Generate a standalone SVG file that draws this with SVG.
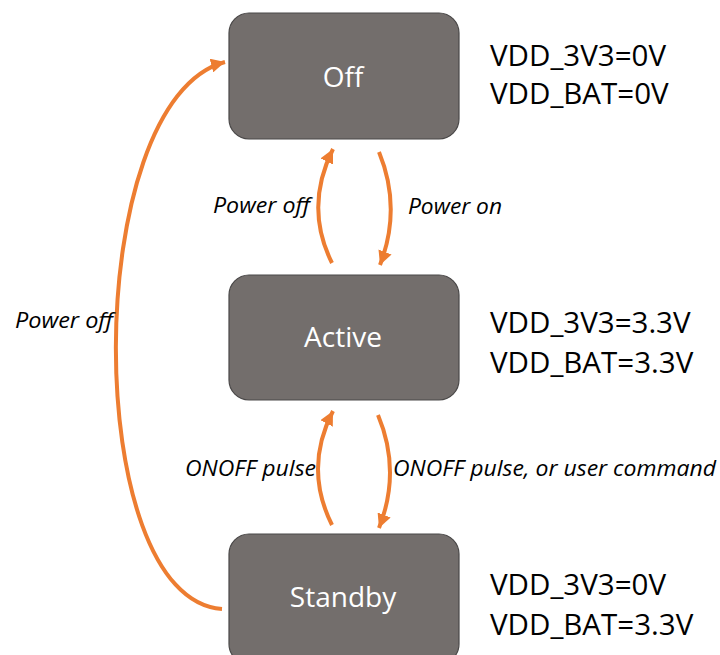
<svg xmlns="http://www.w3.org/2000/svg" width="720" height="655" viewBox="0 0 720 655">
<style>
.box{fill:#736E6C;stroke:#4A4848;stroke-width:1.2}
.nl{font-family:"Open Sans","Noto Sans",sans-serif;font-size:28px;fill:#FFFFFF;text-anchor:middle}
.v{font-family:"Open Sans","Noto Sans",sans-serif;font-size:29.5px;fill:#000000}
.lb{font-family:"Open Sans","Noto Sans",sans-serif;font-size:21px;font-style:italic;fill:#000000}
.c{fill:none;stroke:#ED7D31;stroke-width:4}
</style>
<defs>
<marker id="ah" markerUnits="userSpaceOnUse" markerWidth="16" markerHeight="14" refX="14" refY="7" orient="auto">
<path d="M0,0 L14,7 L0,14 Z" fill="#ED7D31"/>
</marker>
</defs>
<g id="connectors">
<path class="c" d="M222,609 C80,600 80,100 225,62" marker-end="url(#ah)"/>
<path class="c" d="M332,263 Q304,207 333,149" marker-end="url(#ah)"/>
<path class="c" d="M379,152 Q402,208 380,265" marker-end="url(#ah)"/>
<path class="c" d="M332,525 Q303.5,468 333,411" marker-end="url(#ah)"/>
<path class="c" d="M378,415 Q401.5,471 379,528" marker-end="url(#ah)"/>
</g>
<g id="labels">
<text class="lb" x="213" y="213" textLength="97" lengthAdjust="spacingAndGlyphs">Power off</text>
<text class="lb" x="408" y="214" textLength="94" lengthAdjust="spacingAndGlyphs">Power on</text>
<text class="lb" x="15" y="328" textLength="98" lengthAdjust="spacingAndGlyphs">Power off</text>
<text class="lb" x="185" y="476" textLength="131" lengthAdjust="spacingAndGlyphs">ONOFF pulse</text>
<text class="lb" x="393" y="476" textLength="323" lengthAdjust="spacingAndGlyphs">ONOFF pulse, or user command</text>
</g>
<g id="off">
<rect class="box" x="229" y="13" width="230" height="126" rx="20"/>
<text class="nl" x="343" y="87">Off</text>
<text class="v" x="490" y="66">VDD_3V3=0V</text>
<text class="v" x="490" y="104">VDD_BAT=0V</text>
</g>
<g id="active">
<rect class="box" x="229" y="275" width="230" height="125" rx="20"/>
<text class="nl" x="343" y="347">Active</text>
<text class="v" x="490" y="333">VDD_3V3=3.3V</text>
<text class="v" x="490" y="373">VDD_BAT=3.3V</text>
</g>
<g id="standby">
<rect class="box" x="229" y="534" width="230" height="130" rx="20"/>
<text class="nl" x="343" y="607">Standby</text>
<text class="v" x="490" y="595">VDD_3V3=0V</text>
<text class="v" x="490" y="635">VDD_BAT=3.3V</text>
</g>
</svg>
